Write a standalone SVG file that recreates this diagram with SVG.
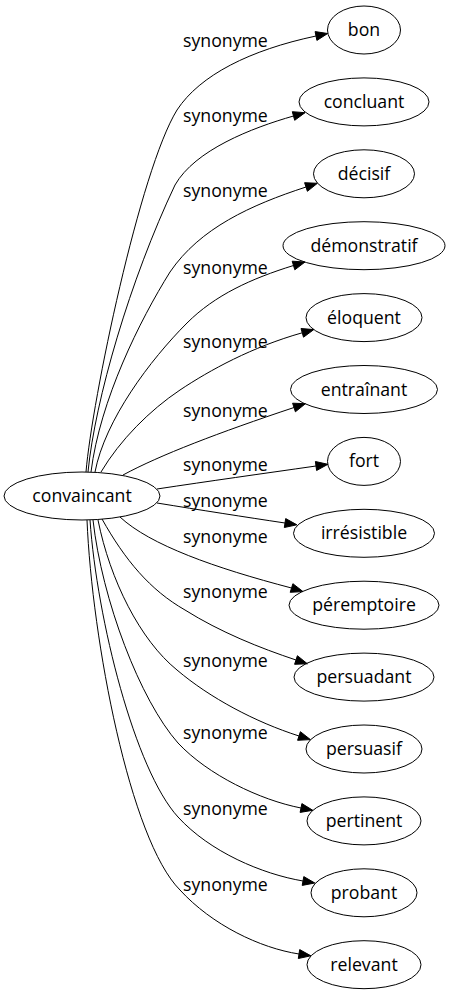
<svg xmlns="http://www.w3.org/2000/svg" width="451" height="995" viewBox="0 0 451 995">
<style>
text{font-family:"Open Sans","Noto Sans","DejaVu Sans",sans-serif;font-size:17.7px;fill:#000}
.n{text-anchor:middle}
ellipse{fill:none;stroke:#000;stroke-width:1}
.e path{fill:none;stroke:#000;stroke-width:1}
.e polygon{fill:#000;stroke:#000;stroke-width:1}
</style>
<rect width="451" height="995" fill="#fff"/>
<g id="edges" class="e">
<path d="M86,472 C92,400 140,170 177,110 C200,75 250,50 316,36"/><polygon points="316.9,40.4 327.7,33.5 315.1,31.6"/>
<path d="M88,472 C95,400 130,280 175,185 C195,150 251.5,128 293.5,116"/><polygon points="294.7,120.3 305,112.7 292.3,111.7"/>
<path d="M91,472 C100,400 140,320 170,272 C200,228 250.9,205 306,187"/><polygon points="307.4,191.3 317.4,183.3 304.6,182.7"/>
<path d="M95,472 C105,420 150,360 187,323 C215,295 251.5,278.5 293.5,265.5"/><polygon points="294.8,269.8 305,262 292.2,261.2"/>
<path d="M101,472 C120,440 150,410 180,390 C210,370 252.2,346.9 302.2,332.8"/><polygon points="303.5,337.2 313.8,329.6 301,328.5"/>
<path d="M123,475 C160,455 219,432.5 294,407.5"/><polygon points="295.4,411.8 305.4,403.7 292.6,403.2"/>
<path d="M157,489 C210,481 260,474 316,466"/><polygon points="316.6,470.5 327.9,464.3 315.4,461.5"/>
<path d="M157,503 C200,510 245,517 285,523"/><polygon points="284.3,527.5 296.9,524.8 285.7,518.6"/>
<path d="M120,517 C150,545 215,568 291.5,588"/><polygon points="290.2,592.3 303,591.6 292.9,583.7"/>
<path d="M102,519 C125,560 150,590 185,610 C220,632 259.9,648 296,660"/><polygon points="294.6,664.3 307.4,663.8 297.4,655.7"/>
<path d="M98,520 C110,580 140,640 177,670 C210,698 255.2,722 299,736"/><polygon points="297.6,740.3 310.4,739.6 300.4,731.7"/>
<path d="M93,520 C102,600 140,700 178,743 C208,775 260,800 301,808"/><polygon points="300.1,812.4 312.8,810.3 301.9,803.6"/>
<path d="M90,520 C97,620 135,770 178,817 C210,852 262,874 303,881"/><polygon points="302.2,885.4 314.8,883 303.8,876.6"/>
<path d="M87,520 C92,640 130,840 180,890 C212,925 260,948 299,954"/><polygon points="298.3,958.5 310.9,955.8 299.7,949.6"/>
<text x="183" y="47">synonyme</text>
<text x="183" y="121.5">synonyme</text>
<text x="183" y="197">synonyme</text>
<text x="183" y="274">synonyme</text>
<text x="183" y="348">synonyme</text>
<text x="183" y="417">synonyme</text>
<text x="183" y="470.5">synonyme</text>
<text x="183" y="507">synonyme</text>
<text x="183" y="543">synonyme</text>
<text x="183" y="598">synonyme</text>
<text x="183" y="667">synonyme</text>
<text x="183" y="739">synonyme</text>
<text x="183" y="815">synonyme</text>
<text x="183" y="891">synonyme</text>
</g>
<g id="convaincant"><ellipse cx="82" cy="496" rx="78" ry="24"/><text class="n" x="82" y="502">convaincant</text></g>
<g id="bon"><ellipse cx="364" cy="30" rx="36.5" ry="24"/><text class="n" x="364" y="36">bon</text></g>
<g id="concluant"><ellipse cx="364" cy="101.9" rx="65" ry="24"/><text class="n" x="364" y="107.9">concluant</text></g>
<g id="decisif"><ellipse cx="364" cy="173.8" rx="50.5" ry="24"/><text class="n" x="364" y="179.8">décisif</text></g>
<g id="demonstratif"><ellipse cx="364" cy="245.7" rx="81" ry="24"/><text class="n" x="364" y="251.7">démonstratif</text></g>
<g id="eloquent"><ellipse cx="364" cy="317.6" rx="58" ry="24"/><text class="n" x="364" y="323.6">éloquent</text></g>
<g id="entrainant"><ellipse cx="364" cy="389.5" rx="73.5" ry="24"/><text class="n" x="364" y="395.5">entraînant</text></g>
<g id="fort"><ellipse cx="364" cy="461.4" rx="36.5" ry="24"/><text class="n" x="364" y="467.4">fort</text></g>
<g id="irresistible"><ellipse cx="364" cy="533.3" rx="70.5" ry="24"/><text class="n" x="364" y="539.3">irrésistible</text></g>
<g id="peremptoire"><ellipse cx="364" cy="605.2" rx="75" ry="24"/><text class="n" x="364" y="611.2">péremptoire</text></g>
<g id="persuadant"><ellipse cx="364" cy="677.1" rx="70" ry="24"/><text class="n" x="364" y="683.1">persuadant</text></g>
<g id="persuasif"><ellipse cx="364" cy="749" rx="58" ry="24"/><text class="n" x="364" y="755">persuasif</text></g>
<g id="pertinent"><ellipse cx="364" cy="820.9" rx="57" ry="24"/><text class="n" x="364" y="826.9">pertinent</text></g>
<g id="probant"><ellipse cx="364" cy="892.8" rx="53" ry="24"/><text class="n" x="364" y="898.8">probant</text></g>
<g id="relevant"><ellipse cx="364" cy="964.7" rx="57" ry="24"/><text class="n" x="364" y="970.7">relevant</text></g>
</svg>
